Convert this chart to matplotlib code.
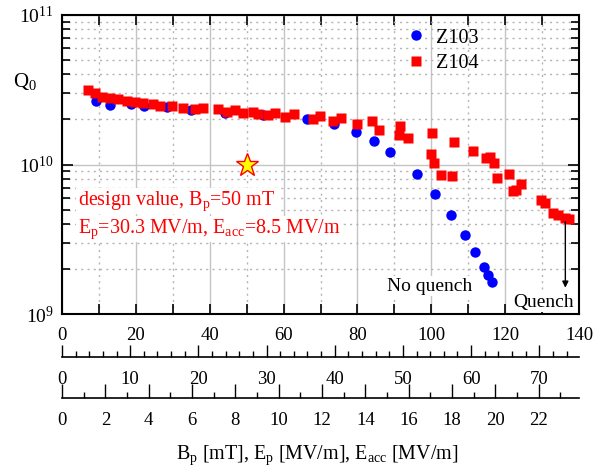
import numpy as np
import matplotlib
matplotlib.use("Agg")
import matplotlib.pyplot as plt
from matplotlib.ticker import MultipleLocator, FixedLocator, LogLocator, NullFormatter

plt.rcParams['font.family'] = 'Liberation Serif'
plt.rcParams['mathtext.fontset'] = 'custom'
plt.rcParams['mathtext.rm'] = 'Liberation Serif'
plt.rcParams['mathtext.it'] = 'Liberation Serif:italic'

# Z103: peak field Bp [mT] and Q0
bp_z103 = [9.1, 13.1, 18.6, 22.2, 28.3, 34.8, 44.1, 54.5, 66.4, 73.7, 79.6,
           84.5, 88.7, 96.0, 101.0, 105.3, 109.1, 111.8, 114.3, 115.4, 116.5]
q_z103 = [2.66e10, 2.50e10, 2.53e10, 2.46e10, 2.44e10, 2.32e10, 2.22e10,
          2.14e10, 2.01e10, 1.86e10, 1.65e10, 1.44e10, 1.22e10, 8.67e9,
          6.32e9, 4.57e9, 3.39e9, 2.60e9, 2.07e9, 1.82e9, 1.63e9]

# Z104: peak field Bp [mT] and Q0
bp_z104 = [7.0, 8.9, 10.8, 13.0, 15.2, 17.5, 19.8, 22.0, 24.6, 26.5, 29.7,
           32.7, 36.0, 38.1, 42.3, 44.6, 46.8, 49.1, 51.6, 53.2, 55.9, 57.7,
           60.4, 62.8, 67.9, 69.9, 73.5, 75.5, 80.0, 83.9, 85.9, 91.5, 91.3,
           93.8, 100.3, 99.8, 100.7, 106.1, 102.5, 105.7, 111.2, 114.7, 115.9,
           117.1, 117.8, 121.1, 122.0, 122.9, 124.3, 129.6, 130.8, 133.0,
           134.2, 136.3, 137.2]
q_z104 = [3.15e10, 2.99e10, 2.84e10, 2.80e10, 2.73e10, 2.67e10, 2.63e10,
          2.57e10, 2.54e10, 2.46e10, 2.46e10, 2.40e10, 2.34e10, 2.40e10,
          2.34e10, 2.25e10, 2.32e10, 2.22e10, 2.25e10, 2.17e10, 2.14e10,
          2.20e10, 2.09e10, 2.17e10, 2.01e10, 2.11e10, 1.96e10, 2.06e10,
          1.87e10, 1.95e10, 1.70e10, 1.82e10, 1.57e10, 1.51e10, 1.62e10,
          1.17e10, 1.03e10, 1.41e10, 8.51e9, 8.38e9, 1.23e10, 1.10e10,
          1.13e10, 1.03e10, 8.09e9, 8.63e9, 6.65e9, 6.75e9, 7.38e9, 5.77e9,
          5.50e9, 4.76e9, 4.60e9, 4.36e9, 4.32e9]

# design point
bp_design = 50
q_design = 1e10

# field conversions used for the extra axes
ep_per_bp = 0.5416
eacc_per_bp = 0.1704
ep_ticks = np.arange(0, 71, 10)
ep_minor = np.arange(0, 76, 2)
eacc_ticks = np.arange(0, 23, 2)
eacc_minor = np.arange(0, 24, 1)

fig = plt.figure(figsize=(6.02, 4.67), dpi=100)
ax = fig.add_axes([0.103, 0.3276, 0.8588, 0.6403])

ax.plot(bp_z103, q_z103, 'o', color='#0000ff', ms=7.5, mec='none', label='Z103')
ax.plot(bp_z104, q_z104, 's', color='#ff0000', ms=7, mec='none', label='Z104')
ax.plot([bp_design], [q_design], '*', ms=17, mfc='#ffff00', mec='#ff0000', mew=1.0)

ax.set_yscale('log')
ax.set_xlim(0, 140)
ax.set_ylim(1e9, 1e11)

ax.xaxis.set_major_locator(MultipleLocator(20))
ax.xaxis.set_minor_locator(MultipleLocator(10))
ax.yaxis.set_major_locator(LogLocator(base=10))
ax.yaxis.set_minor_locator(LogLocator(base=10, subs=np.arange(2, 10)))
ax.yaxis.set_minor_formatter(NullFormatter())

ax.grid(which='major', color='#c4c4c4', lw=1.0, ls='-')
ax.grid(which='minor', color='#b4b4b4', lw=1.0, ls=(0, (1.5, 3)))
ax.set_axisbelow(True)

ax.tick_params(which='both', direction='in', top=True, right=True,
               labelsize=13.5, pad=9, width=1.2)
ax.tick_params(axis='x', which='both', length=7)
ax.tick_params(axis='y', which='major', length=8, labelsize=14, pad=6)
ax.tick_params(axis='y', which='minor', length=6)
for s in ax.spines.values():
    s.set_linewidth(1.5)

# extra field axes below the main one
ep_ax = ax.secondary_xaxis(-0.143, functions=(lambda b: b * ep_per_bp,
                                              lambda e: e / ep_per_bp))
ep_ax.xaxis.set_major_locator(FixedLocator(ep_ticks))
ep_ax.xaxis.set_minor_locator(FixedLocator(ep_minor))
ep_ax.tick_params(which='both', direction='in', labelsize=13.5, pad=10, width=1.0)
ep_ax.tick_params(which='major', length=9)
ep_ax.tick_params(which='minor', length=4)
ep_ax.spines['bottom'].set_linewidth(1.2)

eacc_ax = ax.secondary_xaxis(-0.282, functions=(lambda b: b * eacc_per_bp,
                                                lambda e: e / eacc_per_bp))
eacc_ax.xaxis.set_major_locator(FixedLocator(eacc_ticks))
eacc_ax.xaxis.set_minor_locator(FixedLocator(eacc_minor))
eacc_ax.tick_params(which='both', direction='in', labelsize=13.5, pad=10, width=1.0)
eacc_ax.tick_params(which='major', length=10)
eacc_ax.tick_params(which='minor', length=4)
eacc_ax.spines['bottom'].set_linewidth(1.2)

ax.legend(loc='upper left', bbox_to_anchor=(0.665, 0.955), frameon=False,
          handlelength=1.0, handletextpad=0.5, labelspacing=0.3,
          fontsize=14.5, borderaxespad=0, borderpad=0, numpoints=1)

box = dict(facecolor='white', edgecolor='none', pad=1)
ax.text(4.3, 1e10 * 10 ** -0.27, r'design value, B$_\mathrm{p}$=50 mT',
        color='#ff0000', fontsize=14.4, va='baseline', bbox=box)
ax.text(4.3, 1e10 * 10 ** -0.455,
        r'E$_\mathrm{p}$=30.3 MV/m, E$_\mathrm{acc}$=8.5 MV/m',
        color='#ff0000', fontsize=14.4, va='baseline', bbox=box)
ax.text(88.1, 10 ** (11 - 275.7 / 149.5), 'No quench', fontsize=14,
        va='baseline', bbox=box)
ax.text(122.2, 10 ** (11 - 291.7 / 149.5), 'Quench', fontsize=14,
        va='baseline', bbox=box)
ax.annotate('', xy=(136.3, 1.5e9), xytext=(136.3, 4.15e9),
            arrowprops=dict(arrowstyle='-|>', color='black', lw=1.0,
                            mutation_scale=9, shrinkA=0, shrinkB=0))

fig.text(13 / 602, 1 - 87 / 467, r'Q$_\mathrm{0}$', fontsize=15, va='baseline')
fig.text(317 / 602, 8 / 467,
         r'B$_\mathrm{p}$ [mT], E$_\mathrm{p}$ [MV/m], E$_\mathrm{acc}$ [MV/m]',
         fontsize=14.4, ha='center', va='baseline')

fig.savefig('out.png', dpi=100)
